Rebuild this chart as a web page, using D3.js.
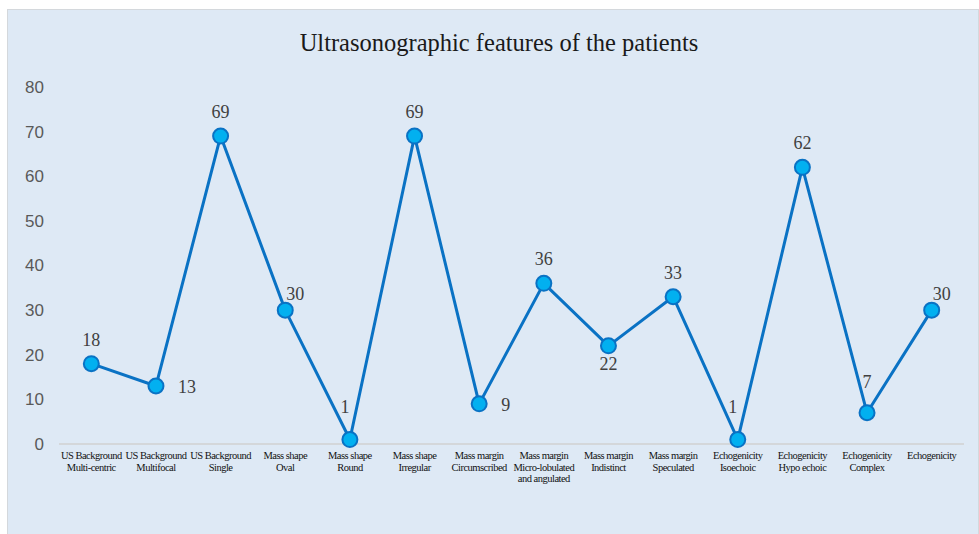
<!DOCTYPE html>
<html>
<head>
<meta charset="utf-8">
<script src="https://cdn.jsdelivr.net/npm/d3@7"></script>
<style>
  body { margin: 0; background: #fff; }
  svg { display: block; }
</style>
</head>
<body>
<div id="graphic-area"></div>
<script>
// chart values
const categories = [
  ["US Background", "Multi-centric"],
  ["US Background", "Multifocal"],
  ["US Background", "Single"],
  ["Mass shape", "Oval"],
  ["Mass shape", "Round"],
  ["Mass shape", "Irregular"],
  ["Mass margin", "Circumscribed"],
  ["Mass margin", "Micro-lobulated", "and angulated"],
  ["Mass margin", "Indistinct"],
  ["Mass margin", "Speculated"],
  ["Echogenicity", "Isoechoic"],
  ["Echogenicity", "Hypo echoic"],
  ["Echogenicity", "Complex"],
  ["Echogenicity"]
];
const values = [18, 13, 69, 30, 1, 69, 9, 36, 22, 33, 1, 62, 7, 30];
// where each value label sits relative to its point
const labelPos = ["t", "r", "t", "tr", "tl", "t", "r", "t", "b", "t", "tl", "t", "th", "tr"];
const yTicks = [0, 10, 20, 30, 40, 50, 60, 70, 80];

const w = 979;
const h = 534;

const svg = d3.select("#graphic-area")
              .append("svg")
              .attr("width", w)
              .attr("height", h);

// panel
svg.append("rect")
   .attr("x", 7.5)
   .attr("y", 9.5)
   .attr("width", w - 8)
   .attr("height", h - 9)
   .attr("fill", "#dee9f5")
   .attr("stroke", "#d4d8dc")
   .attr("stroke-width", 1);

svg.append("text")
   .attr("x", 499)
   .attr("y", 51)
   .attr("text-anchor", "middle")
   .attr("font-family", "Liberation Serif, Times New Roman, serif")
   .attr("font-size", 24.5)
   .attr("fill", "#1a1a1a")
   .text("Ultrasonographic features of the patients");

const xScale = d3.scaleBand()
                 .domain(d3.range(values.length))
                 .range([59, 964]);

const yScale = d3.scaleLinear()
                 .domain([0, 80])
                 .range([444, 87]);

const cx = (i) => xScale(i) + xScale.bandwidth() / 2;

// y axis (labels only)
const yAxis = d3.axisLeft(yScale).tickValues(yTicks).tickSize(0).tickPadding(0);
const gy = svg.append("g")
              .attr("transform", "translate(44, 0)")
              .call(yAxis);
gy.select(".domain").remove();
gy.selectAll("text")
  .attr("font-family", "Liberation Sans, Arial, sans-serif")
  .attr("font-size", 17)
  .attr("fill", "#595959");

// baseline
svg.append("line")
   .attr("x1", 59)
   .attr("x2", 964)
   .attr("y1", yScale(0))
   .attr("y2", yScale(0))
   .attr("stroke", "#d0d0d0")
   .attr("stroke-width", 1.5);

// category labels
const cat = svg.append("g")
  .selectAll("text")
  .data(categories)
  .enter()
  .append("text")
  .attr("text-anchor", "middle")
  .attr("font-family", "Liberation Serif, Times New Roman, serif")
  .attr("font-size", 10.5)
  .attr("letter-spacing", -0.5)
  .attr("fill", "#111");
cat.selectAll("tspan")
   .data((d, i) => d.map((s) => ({ s: s, i: i })))
   .enter()
   .append("tspan")
   .attr("x", (d) => cx(d.i))
   .attr("y", (d, j) => 459 + j * 11.5)
   .text((d) => d.s);

// line
const line = d3.line()
               .x((d, i) => cx(i))
               .y((d) => yScale(d));

svg.append("path")
   .datum(values)
   .attr("d", line)
   .attr("fill", "none")
   .attr("stroke", "#0a72c4")
   .attr("stroke-width", 3)
   .attr("stroke-linejoin", "round");

svg.selectAll("circle")
   .data(values)
   .enter()
   .append("circle")
   .attr("cx", (d, i) => cx(i))
   .attr("cy", (d) => yScale(d))
   .attr("r", 7.5)
   .attr("fill", "#02b0f0")
   .attr("stroke", "#0a72c4")
   .attr("stroke-width", 2);

// data labels
const dxOf = { t: 0, r: 22, b: 0, tr: 10, tl: -5, th: 0 };
const dyOf = { t: -18, r: 7, b: 24, tr: -10, tl: -27, th: -25 };
svg.append("g")
  .selectAll("text")
  .data(values)
  .enter()
  .append("text")
  .attr("x", (d, i) => cx(i) + dxOf[labelPos[i]])
  .attr("y", (d, i) => yScale(d) + dyOf[labelPos[i]])
  .attr("text-anchor", (d, i) => labelPos[i] === "r" ? "start" : "middle")
  .attr("font-family", "Liberation Serif, Times New Roman, serif")
  .attr("font-size", 18)
  .attr("fill", "#404040")
  .text((d) => d);
</script>
</body>
</html>
